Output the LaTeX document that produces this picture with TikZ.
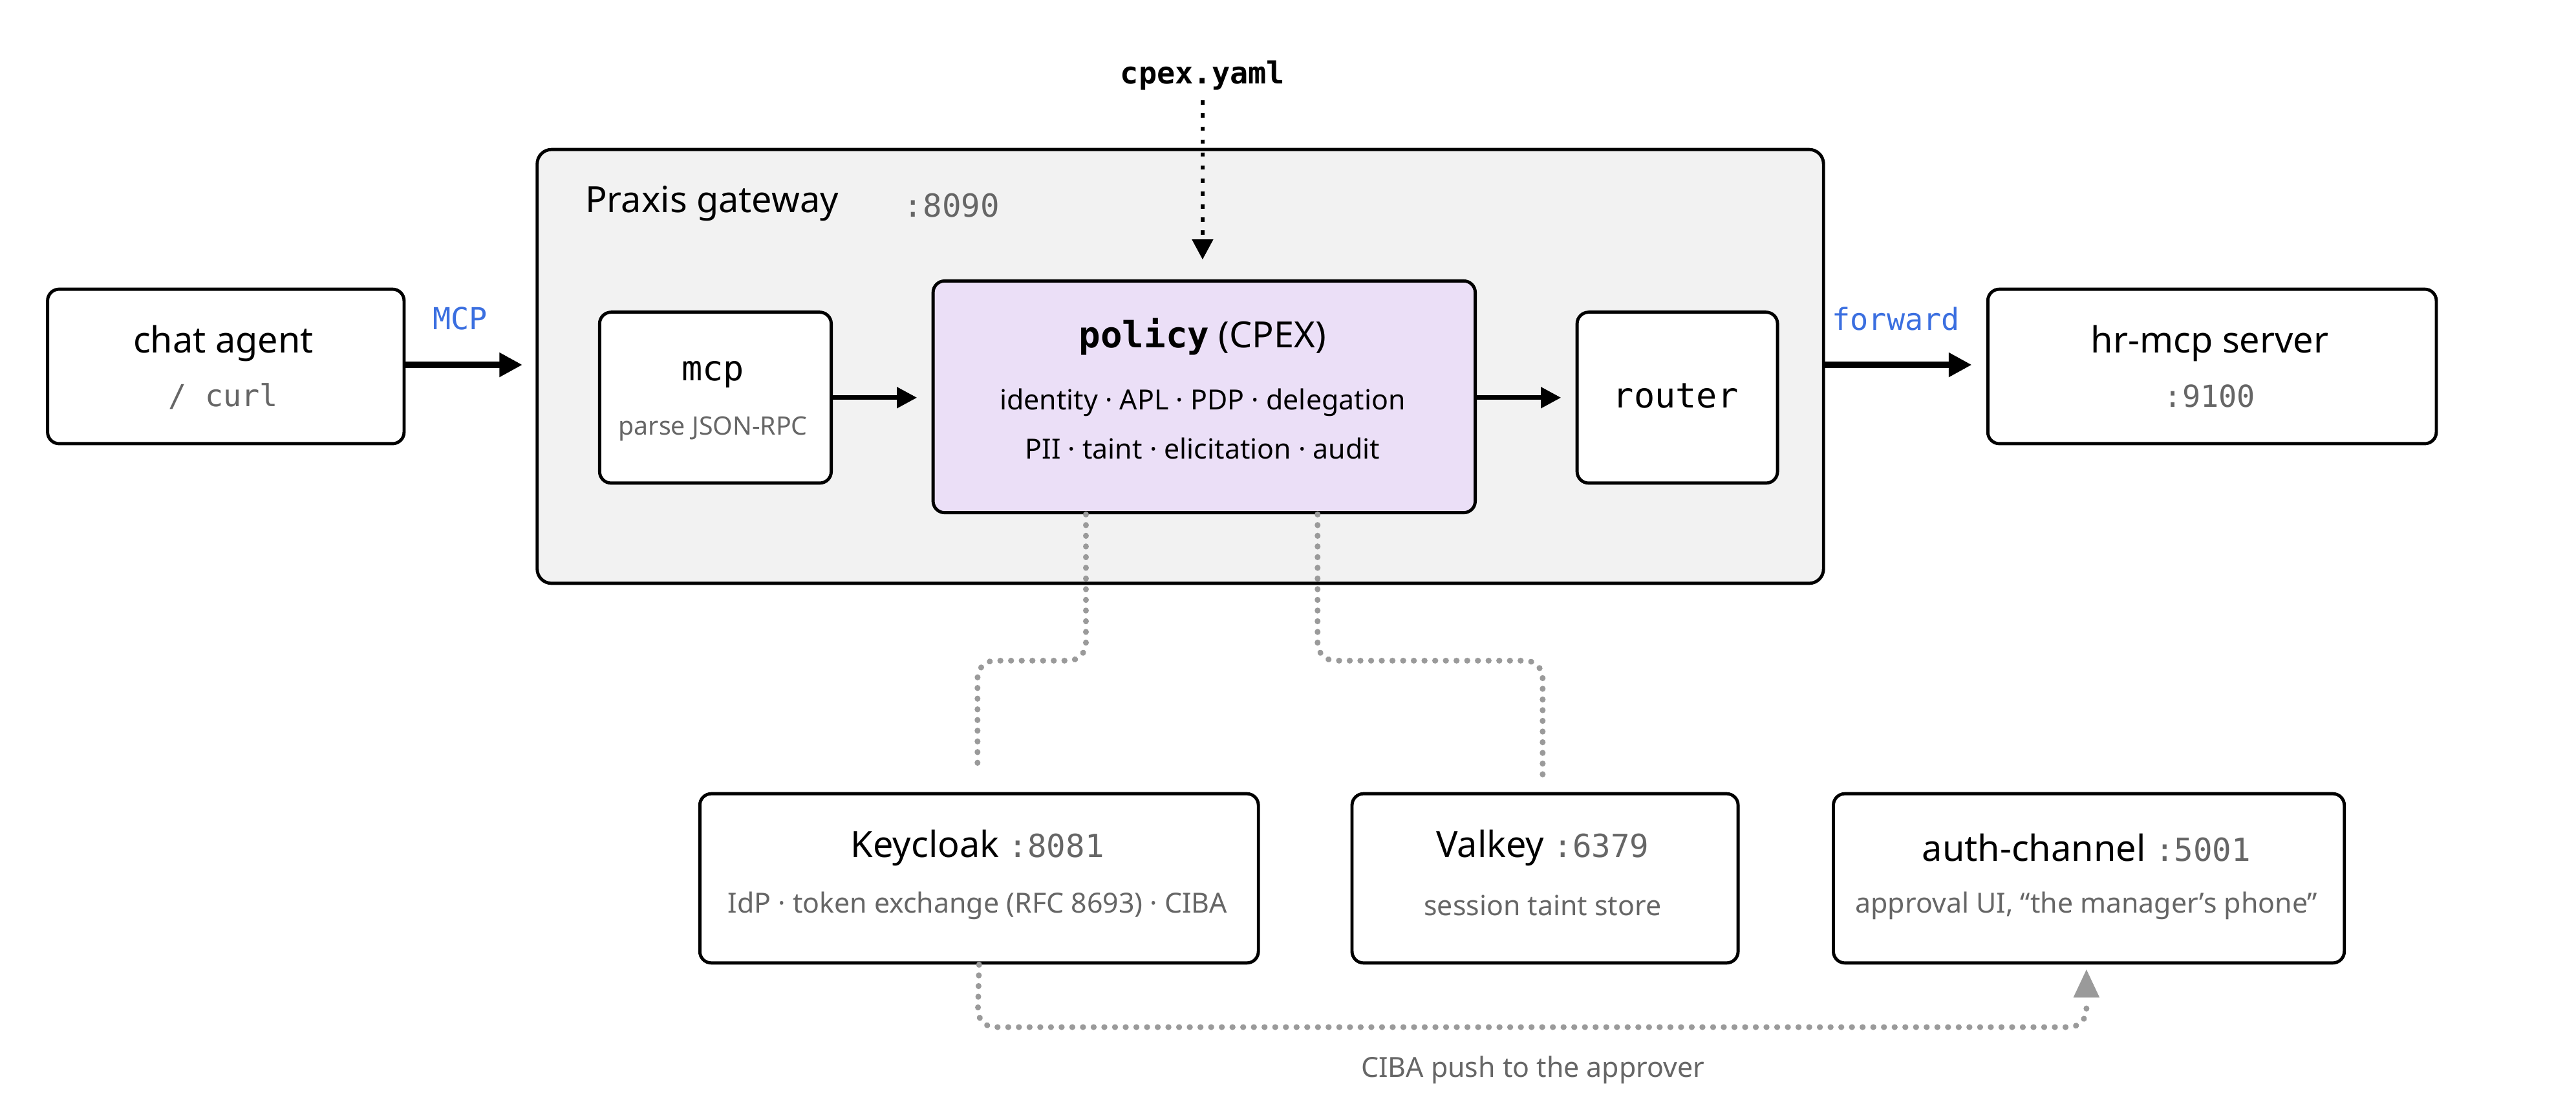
\documentclass[tikz,border=0pt]{standalone}
\usepackage{fontspec}
\setmainfont{Noto Sans}
\setmonofont{DejaVu Sans Mono}
\usetikzlibrary{arrows.meta}
\definecolor{gw}{HTML}{F2F2F2}
\definecolor{pol}{HTML}{EBDFF7}
\definecolor{blu}{HTML}{3B6FE0}
\definecolor{gtx}{HTML}{666666}
\definecolor{gdot}{HTML}{9A9A9A}
\begin{document}
\begin{tikzpicture}[x=0.02cm,y=-0.02cm,
 box/.style={draw=black,line width=1.1pt,rounded corners=4pt,fill=white},
 flow/.style={line width=1.6pt,-{Triangle[length=7pt,width=7pt]},shorten >=5pt},
 flowb/.style={line width=2.2pt,-{Triangle[length=8pt,width=8pt]}},
 gdots/.style={draw=gdot,line width=2pt,dash pattern=on 0.1pt off 3.6pt,line cap=round,rounded corners=6pt},
 big/.style={font=\fontsize{12.5}{14}\selectfont},
 sub/.style={font=\fontsize{8.8}{10}\selectfont,text=gtx},
 mid/.style={font=\fontsize{9.6}{11}\selectfont}]
\useasboundingbox (0,0) rectangle (1568,673);
% gateway
\node[draw=black,line width=1.1pt,rounded corners=5pt,fill=gw,minimum width=783*0.02cm,minimum height=264*0.02cm,anchor=north west] (gw) at (326,90) {};
\node[big,anchor=west] (gwt) at (350,124) {Praxis gateway};
\node[anchor=west,font=\ttfamily\fontsize{11}{13}\selectfont,text=gtx] (gwp) at (544,125) {:8090};
% chat agent
\node[box,minimum width=217*0.02cm,minimum height=94*0.02cm,anchor=north west] (ca) at (28,175) {};
\node[big] (cat) at (136,209) {chat agent};
\node[font=\ttfamily\fontsize{10.5}{12}\selectfont,text=gtx] (cas) at (136,241) {/ curl};
% mcp
\node[box,minimum width=141*0.02cm,minimum height=104*0.02cm,anchor=north west] (mcp) at (364,189) {};
\node[font=\ttfamily\fontsize{12}{14}\selectfont] (mcpt) at (434,228) {mcp};
\node[sub] (mcps) at (434,261) {parse JSON-RPC};
% policy
\node[box,fill=pol,minimum width=330*0.02cm,minimum height=141*0.02cm,anchor=north west] (pol) at (567,170) {};
\node[font=\fontsize{12.5}{14}\selectfont] (polt) at (732,205) {\textbf{\texttt{policy}} (CPEX)};
\node[mid] (pol1) at (732,245) {identity · APL · PDP · delegation};
\node[mid] (pol2) at (732,273) {PII · taint · elicitation · audit};
% router
\node[box,minimum width=122*0.02cm,minimum height=104*0.02cm,anchor=north west] (rt) at (959,189) {};
\node[font=\ttfamily\fontsize{12}{14}\selectfont] (rtt) at (1020,241) {router};
% hr
\node[box,minimum width=273*0.02cm,minimum height=94*0.02cm,anchor=north west] (hr) at (1209,175) {};
\node[big] (hrt) at (1345,209) {hr-mcp server};
\node[font=\ttfamily\fontsize{10.5}{12}\selectfont,text=gtx] (hrs) at (1345,241) {:9100};
% cpex
\node[font=\ttfamily\bfseries\fontsize{10.5}{12}\selectfont] (cpex) at (732,46) {cpex.yaml};
\coordinate (cpexend) at (732,158);
\draw[line width=1.5pt,dash pattern=on 1.5pt off 3pt,-{Triangle[length=7pt,width=7pt]}] (cpex.south) -- (cpexend);
% arrows
\coordinate (gwin) at (318,222);
\coordinate (gwout) at (1109,222);
\draw[flowb] (ca.east |- gwin) -- (gwin);
\node[font=\ttfamily\fontsize{10.5}{12}\selectfont,text=blu] (mcpl) at (280,194) {MCP};
\draw[flow] (mcp.east) -- (pol.west |- mcp.east);
\draw[flow] (pol.east |- rt.west) -- (rt.west);
\draw[flowb,shorten >=5pt] (gwout) -- (hr.west |- gwout);
\node[font=\ttfamily\fontsize{10.5}{12}\selectfont,text=blu] (fwl) at (1154,194) {forward};
% bottom boxes
\node[box,minimum width=340*0.02cm,minimum height=103*0.02cm,anchor=north west] (kc) at (425,482) {};
\node[font=\fontsize{12.5}{14}\selectfont] (kct) at (595,516) {Keycloak \texttt{\fontsize{11}{13}\selectfont\color{gtx}:8081}};
\node[sub,font=\fontsize{9.6}{11}\selectfont] (kcs) at (595,551) {IdP · token exchange (RFC 8693) · CIBA};
\node[box,minimum width=235*0.02cm,minimum height=103*0.02cm,anchor=north west] (vk) at (822,482) {};
\node[font=\fontsize{12.5}{14}\selectfont] (vkt) at (939,516) {Valkey \texttt{\fontsize{11}{13}\selectfont\color{gtx}:6379}};
\node[sub,font=\fontsize{9.6}{11}\selectfont] (vks) at (939,551) {session taint store};
\node[box,minimum width=311*0.02cm,minimum height=103*0.02cm,anchor=north west] (ac) at (1115,482) {};
\node[font=\fontsize{12.5}{14}\selectfont] (act) at (1270,516) {auth-channel \texttt{\fontsize{11}{13}\selectfont\color{gtx}:5001}};
\node[sub,font=\fontsize{9.6}{11}\selectfont] (acs) at (1270,551) {approval UI, “the manager’s phone”};
% dotted connectors
\coordinate (k1) at (595,466);
\coordinate (v1) at (939,474);
\draw[gdots] (pol.south -| 661,0) -- (661,402) -- (595,402) -- (k1);
\draw[gdots] (pol.south -| 802,0) -- (802,402) -- (939,402) -- (v1);
\coordinate (acin) at (1270,590);
\draw[gdots] (kc.south) -- (595,625) -- (1270,625) -- (1270,608);
\fill[gdot] (acin) -- ++(-8,17) -- ++(16,0) -- cycle;
\node[font=\fontsize{9.6}{11}\selectfont,text=gtx] (cibal) at (933,651) {CIBA push to the approver};
\end{tikzpicture}
\end{document}
